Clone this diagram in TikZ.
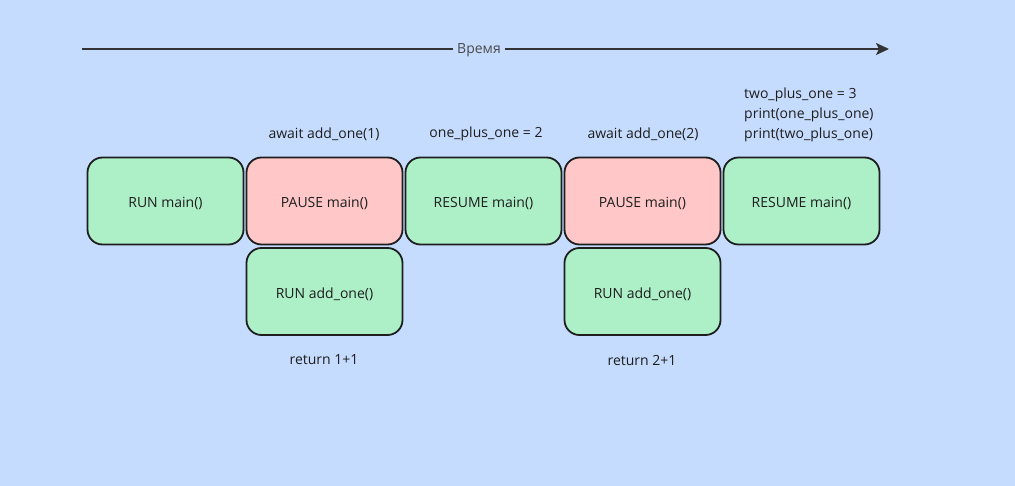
\documentclass[tikz,border=0pt]{standalone}
\usepackage{fontspec}
\setmainfont{Open Sans}
\usetikzlibrary{arrows.meta}
\definecolor{bg}{HTML}{C6DCFE}
\definecolor{gr}{HTML}{ADF0C8}
\definecolor{pk}{HTML}{FFC7C7}
\definecolor{ink}{HTML}{1E1E1E}
\definecolor{ax}{HTML}{333333}
\definecolor{tl}{HTML}{4A4A4A}
\tikzset{
  blk/.style={draw=ink, line width=1.8pt, rounded corners=15pt, minimum width=156pt, minimum height=87pt, inner sep=0pt, text=ink, text height=14pt, text depth=0pt},
  run/.style={blk, fill=gr},
  pause/.style={blk, fill=pk},
  lbl/.style={text=ink, inner sep=0pt, font=\fontsize{14}{20}\selectfont},
}
\begin{document}
\begin{tikzpicture}[x=1pt,y=-1pt, font=\fontsize{14}{17}\selectfont]
\fill[bg] (0,0) rectangle (1015,486);
\useasboundingbox (0,0) rectangle (1015,486);
\coordinate (t0) at (82,49);
\coordinate (t1) at (889,49);
\draw[ax, line width=2pt, -{Stealth[length=13pt,width=12pt,inset=3pt]}] (t0) -- (t1);
\node[lbl, fill=bg, inner xsep=4pt, inner ysep=3pt, text=tl] (time) at (479,50) {Время};
\node[run]   (r1) at (165.5,201) {RUN main()};
\node[pause] (p1) at (324.5,201) {PAUSE main()};
\node[run]   (m1) at (483.5,201) {RESUME main()};
\node[pause] (p2) at (642.5,201) {PAUSE main()};
\node[run]   (m2) at (801.5,201) {RESUME main()};
\node[run]   (a1) at (324.5,291.5) {RUN add\_one()};
\node[run]   (a2) at (642.5,291.5) {RUN add\_one()};
\node[lbl] (l1) at (324,134) {await add\_one(1)};
\node[lbl] (l2) at (486,134) {one\_plus\_one = 2};
\node[lbl] (l3) at (643,134) {await add\_one(2)};
\node[lbl, align=left, anchor=north west] (l4) at (744,87.5) {two\_plus\_one = 3\\print(one\_plus\_one)\\print(two\_plus\_one)};
\node[lbl] (l5) at (324,360) {return 1+1};
\node[lbl] (l6) at (642,360) {return 2+1};
\end{tikzpicture}
\end{document}
